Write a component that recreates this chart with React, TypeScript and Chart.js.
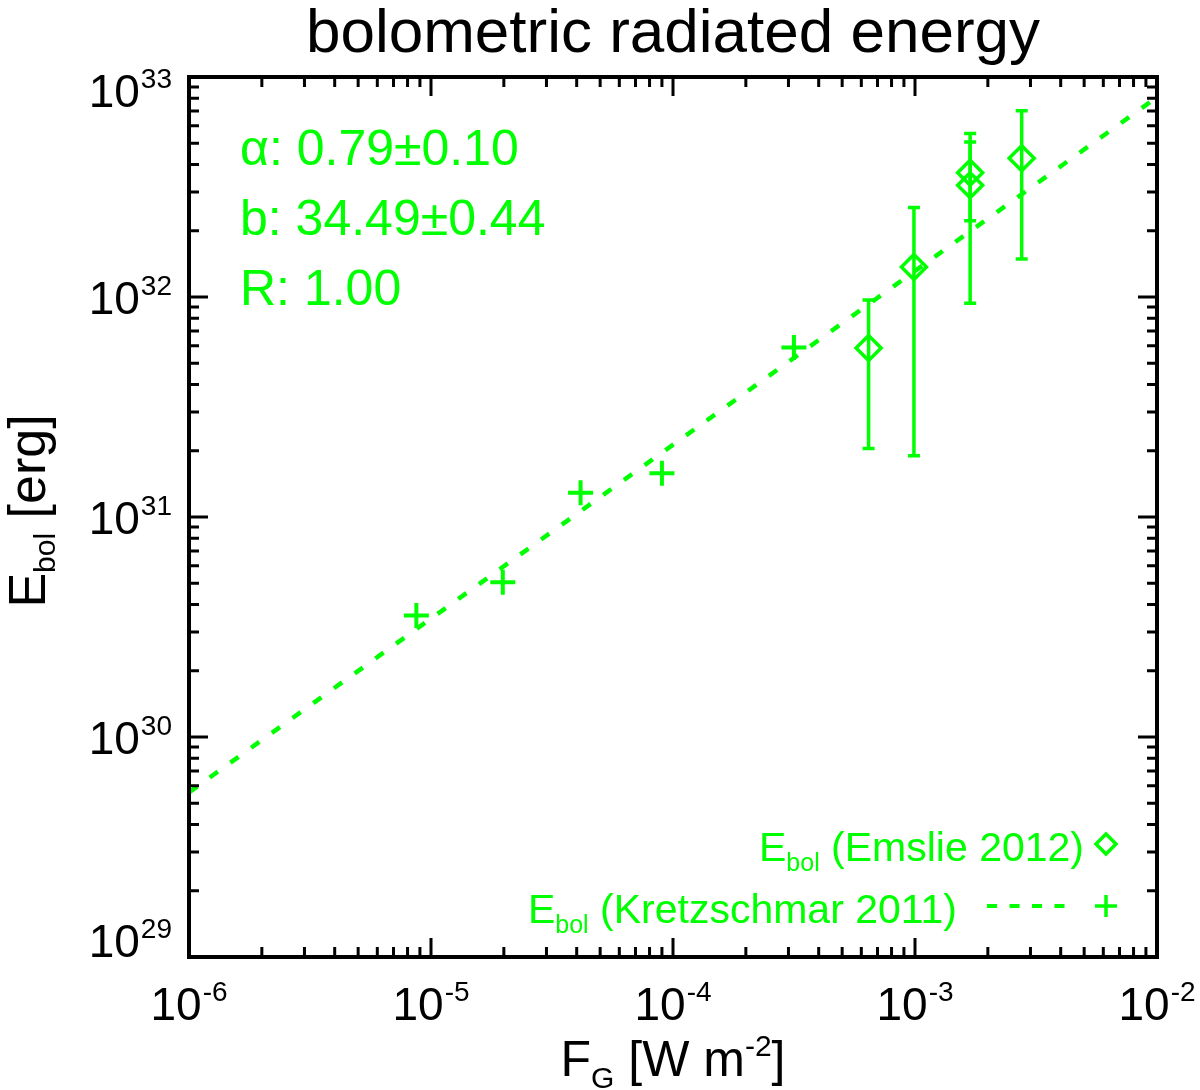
import { useEffect, useRef } from "react"
import { Chart, registerables } from "chart.js"

Chart.register(...registerables)

const GREEN = "#00ff00"
const FONT = "'Liberation Sans', Arial, Helvetica, sans-serif"

// Kretzschmar 2011 (plus signs)
const kretzFlux = [8.7e-6, 1.98e-5, 4.15e-5, 9.0e-5, 3.16e-4]
const kretzEnergy = [3.57e30, 5.05e30, 1.29e31, 1.58e31, 5.89e31]

// Emslie 2012 (diamonds with error bars)
const emslieFlux = [6.43e-4, 9.9e-4, 1.69e-3, 1.69e-3, 2.76e-3]
const emslieEnergy = [5.86e31, 1.37e32, 3.67e32, 3.22e32, 4.27e32]
const emslieLow = [2.05e31, 1.9e31, 2.22e32, 9.36e31, 1.49e32]
const emslieHigh = [9.68e31, 2.55e32, 5.07e32, 5.53e32, 7.02e32]

// power-law fit, end points at the plot edges
const fitFlux = [1e-6, 1e-2]
const fitEnergy = [5.6e29, 8.1e32]

const xExponents = [-6, -5, -4, -3, -2]
const yExponents = [29, 30, 31, 32, 33]
const minorMantissas = [2, 3, 4, 5, 6, 7, 8, 9]

const fitText = ["α: 0.79±0.10", "b: 34.49±0.44", "R: 1.00"]

// draws "base" with a raised "exp", anchored at x (right or center)
function drawPower(ctx: CanvasRenderingContext2D, base: string, exp: string, x: number, y: number, align: "right" | "center") {
  ctx.font = `46px ${FONT}`
  const wb = ctx.measureText(base).width
  ctx.font = `28px ${FONT}`
  const we = ctx.measureText(exp).width
  const total = wb + we + 1
  const start = align === "right" ? x - total : x - total / 2
  ctx.textAlign = "left"
  ctx.textBaseline = "alphabetic"
  ctx.font = `46px ${FONT}`
  ctx.fillText(base, start, y)
  ctx.font = `28px ${FONT}`
  ctx.fillText(exp, start + wb + 1, y - 19)
}

// text pieces: [text, size, baseline shift]
function drawPieces(ctx: CanvasRenderingContext2D, pieces: [string, number, number][], x: number, y: number, align: "right" | "center") {
  let total = 0
  pieces.forEach(([t, s]) => {
    ctx.font = `${s}px ${FONT}`
    total += ctx.measureText(t).width
  })
  let cx = align === "right" ? x - total : x - total / 2
  ctx.textAlign = "left"
  ctx.textBaseline = "alphabetic"
  pieces.forEach(([t, s, dy]) => {
    ctx.font = `${s}px ${FONT}`
    ctx.fillText(t, cx, y + dy)
    cx += ctx.measureText(t).width
  })
}

const errorBars = {
  id: "errorBars",
  afterDatasetsDraw(chart: any) {
    const ctx = chart.ctx
    const xs = chart.scales.x
    const ys = chart.scales.y
    ctx.save()
    ctx.strokeStyle = GREEN
    ctx.lineWidth = 3.5
    emslieFlux.forEach((f, i) => {
      const px = xs.getPixelForValue(f)
      const lo = ys.getPixelForValue(emslieLow[i])
      const hi = ys.getPixelForValue(emslieHigh[i])
      ctx.beginPath()
      ctx.moveTo(px, lo)
      ctx.lineTo(px, hi)
      ctx.moveTo(px - 6, lo)
      ctx.lineTo(px + 6, lo)
      ctx.moveTo(px - 6, hi)
      ctx.lineTo(px + 6, hi)
      ctx.stroke()
    })
    ctx.restore()
  },
}

const idlFrame = {
  id: "idlFrame",
  afterDraw(chart: any) {
    const ctx = chart.ctx
    const { left, right, top, bottom } = chart.chartArea
    const xs = chart.scales.x
    const ys = chart.scales.y
    ctx.save()

    // box and inward ticks on all sides
    ctx.strokeStyle = "#000"
    ctx.lineWidth = 4
    ctx.strokeRect(left, top, right - left, bottom - top)
    ctx.lineWidth = 3
    ctx.beginPath()
    xExponents.forEach((e, k) => {
      const px = xs.getPixelForValue(Math.pow(10, e))
      ctx.moveTo(px, bottom); ctx.lineTo(px, bottom - 19)
      ctx.moveTo(px, top); ctx.lineTo(px, top + 19)
      if (k < xExponents.length - 1) {
        minorMantissas.forEach((m) => {
          const mx = xs.getPixelForValue(m * Math.pow(10, e))
          ctx.moveTo(mx, bottom); ctx.lineTo(mx, bottom - 10)
          ctx.moveTo(mx, top); ctx.lineTo(mx, top + 10)
        })
      }
    })
    yExponents.forEach((e, k) => {
      const py = ys.getPixelForValue(Math.pow(10, e))
      ctx.moveTo(left, py); ctx.lineTo(left + 19, py)
      ctx.moveTo(right, py); ctx.lineTo(right - 19, py)
      if (k < yExponents.length - 1) {
        minorMantissas.forEach((m) => {
          const my = ys.getPixelForValue(m * Math.pow(10, e))
          ctx.moveTo(left, my); ctx.lineTo(left + 10, my)
          ctx.moveTo(right, my); ctx.lineTo(right - 10, my)
        })
      }
    })
    ctx.stroke()

    // tick labels
    ctx.fillStyle = "#000"
    xExponents.forEach((e) => {
      const px = xs.getPixelForValue(Math.pow(10, e))
      drawPower(ctx, "10", String(e), px, bottom + 63, "center")
    })
    yExponents.forEach((e) => {
      const py = ys.getPixelForValue(Math.pow(10, e))
      const base = Math.min(Math.max(py + 17, top + 30), bottom)
      drawPower(ctx, "10", String(e), left - 17, base, "right")
    })

    // title and axis titles
    ctx.font = `62px ${FONT}`
    ctx.textAlign = "center"
    ctx.textBaseline = "alphabetic"
    ctx.fillText("bolometric radiated energy", (left + right) / 2, 52)

    drawPieces(ctx, [["F", 50, 0], ["G", 30, 12], [" [W m", 50, 0], ["-2", 30, -20], ["]", 50, 0]], (left + right) / 2, bottom + 119, "center")

    ctx.save()
    ctx.translate(45, (top + bottom) / 2 - 6)
    ctx.rotate(-Math.PI / 2)
    drawPieces(ctx, [["E", 52, 0], ["bol", 30, 10], [" [erg]", 52, 0]], 0, 0, "center")
    ctx.restore()

    // fit parameters
    ctx.fillStyle = GREEN
    ctx.font = `50px ${FONT}`
    ctx.textAlign = "left"
    fitText.forEach((t, i) => ctx.fillText(t, left + 51, top + 88 + i * 70))

    // legend (lower right)
    const symX = right - 51
    drawPieces(ctx, [["E", 41, 0], ["bol", 25, 10], [" (Emslie 2012)", 41, 0]], right - 73, bottom - 96, "right")
    drawPieces(ctx, [["E", 41, 0], ["bol", 25, 10], [" (Kretzschmar 2011)", 41, 0]], right - 200, bottom - 34, "right")
    ctx.strokeStyle = GREEN
    ctx.lineWidth = 3.5
    const dy = bottom - 113
    ctx.beginPath()
    ctx.moveTo(symX - 10, dy); ctx.lineTo(symX, dy - 10); ctx.lineTo(symX + 10, dy); ctx.lineTo(symX, dy + 10)
    ctx.closePath()
    ctx.stroke()
    const py = bottom - 51
    ctx.beginPath()
    ctx.moveTo(symX - 11, py); ctx.lineTo(symX + 11, py)
    ctx.moveTo(symX, py - 11); ctx.lineTo(symX, py + 11)
    ctx.stroke()
    ctx.lineWidth = 4
    ctx.setLineDash([10, 12.5])
    ctx.beginPath()
    ctx.moveTo(symX - 119, py)
    ctx.lineTo(symX - 39, py)
    ctx.stroke()

    ctx.restore()
  },
}

export default function App() {
  const chartRef = useRef<HTMLCanvasElement>(null)
  const chartInstance = useRef<Chart | null>(null)

  useEffect(() => {
    if (!chartRef.current) return
    if (chartInstance.current) chartInstance.current.destroy()
    const ctx = chartRef.current.getContext("2d")
    if (!ctx) return

    chartInstance.current = new Chart(ctx, {
      type: "scatter",
      data: {
        datasets: [
          {
            label: "fit",
            data: fitFlux.map((x, i) => ({ x, y: fitEnergy[i] })),
            showLine: true,
            borderColor: GREEN,
            borderWidth: 4.5,
            borderDash: [10, 15.5],
            pointRadius: 0,
          },
          {
            label: "Ebol (Kretzschmar 2011)",
            data: kretzFlux.map((x, i) => ({ x, y: kretzEnergy[i] })),
            pointStyle: "cross",
            pointRadius: 12.5,
            borderColor: GREEN,
            borderWidth: 4,
          },
          {
            label: "Ebol (Emslie 2012)",
            data: emslieFlux.map((x, i) => ({ x, y: emslieEnergy[i] })),
            pointStyle: "rectRot",
            pointRadius: 12.5,
            borderColor: GREEN,
            backgroundColor: "rgba(0,0,0,0)",
            borderWidth: 3.5,
          },
        ],
      },
      options: {
        animation: false,
        responsive: true,
        maintainAspectRatio: false,
        events: [],
        layout: { padding: { left: 189, right: 43, top: 77, bottom: 133 } },
        scales: {
          x: { type: "logarithmic", min: 1e-6, max: 1e-2, display: false },
          y: { type: "logarithmic", min: 1e29, max: 1e33, display: false },
        },
        plugins: {
          legend: { display: false },
          tooltip: { enabled: false },
        },
      },
      plugins: [errorBars, idlFrame],
    })

    return () => {
      if (chartInstance.current) {
        chartInstance.current.destroy()
        chartInstance.current = null
      }
    }
  }, [])

  return (
    <div style={{ position: "absolute", left: 0, top: 0, width: 1200, height: 1090, background: "#fff" }}>
      <canvas ref={chartRef}></canvas>
    </div>
  )
}
